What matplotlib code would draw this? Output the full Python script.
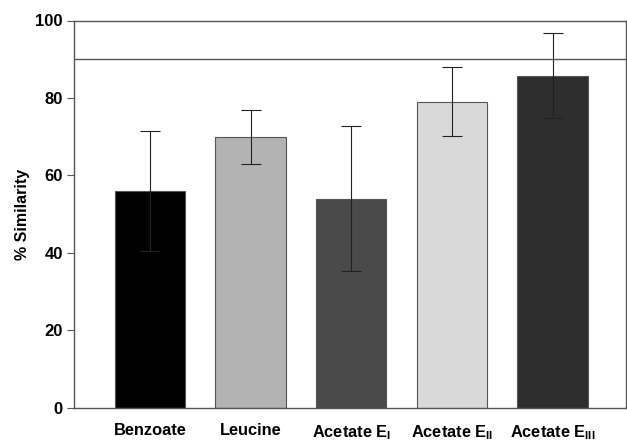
import numpy as np
import matplotlib.pyplot as plt

plt.rcParams['font.family'] = 'Liberation Sans'
plt.rcParams['font.weight'] = 'bold'
plt.rcParams['mathtext.fontset'] = 'custom'
plt.rcParams['mathtext.rm'] = 'Liberation Sans:bold'
plt.rcParams['mathtext.bf'] = 'Liberation Sans:bold'

labels = ['Benzoate', 'Leucine', r'Acetate E$_\mathbf{I}$',
          r'Acetate E$_\mathbf{II}$', r'Acetate E$_\mathbf{III}$']
similarity = [56.0, 70.0, 54.0, 79.0, 85.7]
errors = [15.5, 7.0, 18.7, 8.9, 11.0]
colors = ['#000000', '#b3b3b3', '#4a4a4a', '#d9d9d9', '#2e2e2e']
threshold = 90

fig = plt.figure(figsize=(6.27, 4.42), dpi=100)
ax = fig.add_axes([74/627, 34.3/442, 552/627, 387.2/442])

x = np.arange(len(labels))
ax.bar(x, similarity, width=0.70, color=colors, edgecolor='#555555', linewidth=0.8,
       yerr=errors, capsize=7.2, error_kw=dict(ecolor='#222222', elinewidth=0.8, capthick=0.8))
ax.axhline(threshold, color='#555555', linewidth=1.0)

ax.set_xlim(-0.755, 4.73)
ax.set_ylim(0, 100)
ax.set_yticks([0, 20, 40, 60, 80, 100])
ax.set_xticks(x)
ax.set_xticklabels(labels, fontsize=11.8, fontweight='bold')
ax.tick_params(axis='x', length=0, pad=11)
ax.tick_params(axis='y', length=5, width=0.8, color='#555555', labelsize=12, pad=3)
for s in ax.spines.values():
    s.set_color('#555555')
    s.set_linewidth(1.0)
ax.set_ylabel('% Similarity', fontsize=11.5, fontweight='bold', labelpad=4)

fig.savefig('out.png', dpi=100)
